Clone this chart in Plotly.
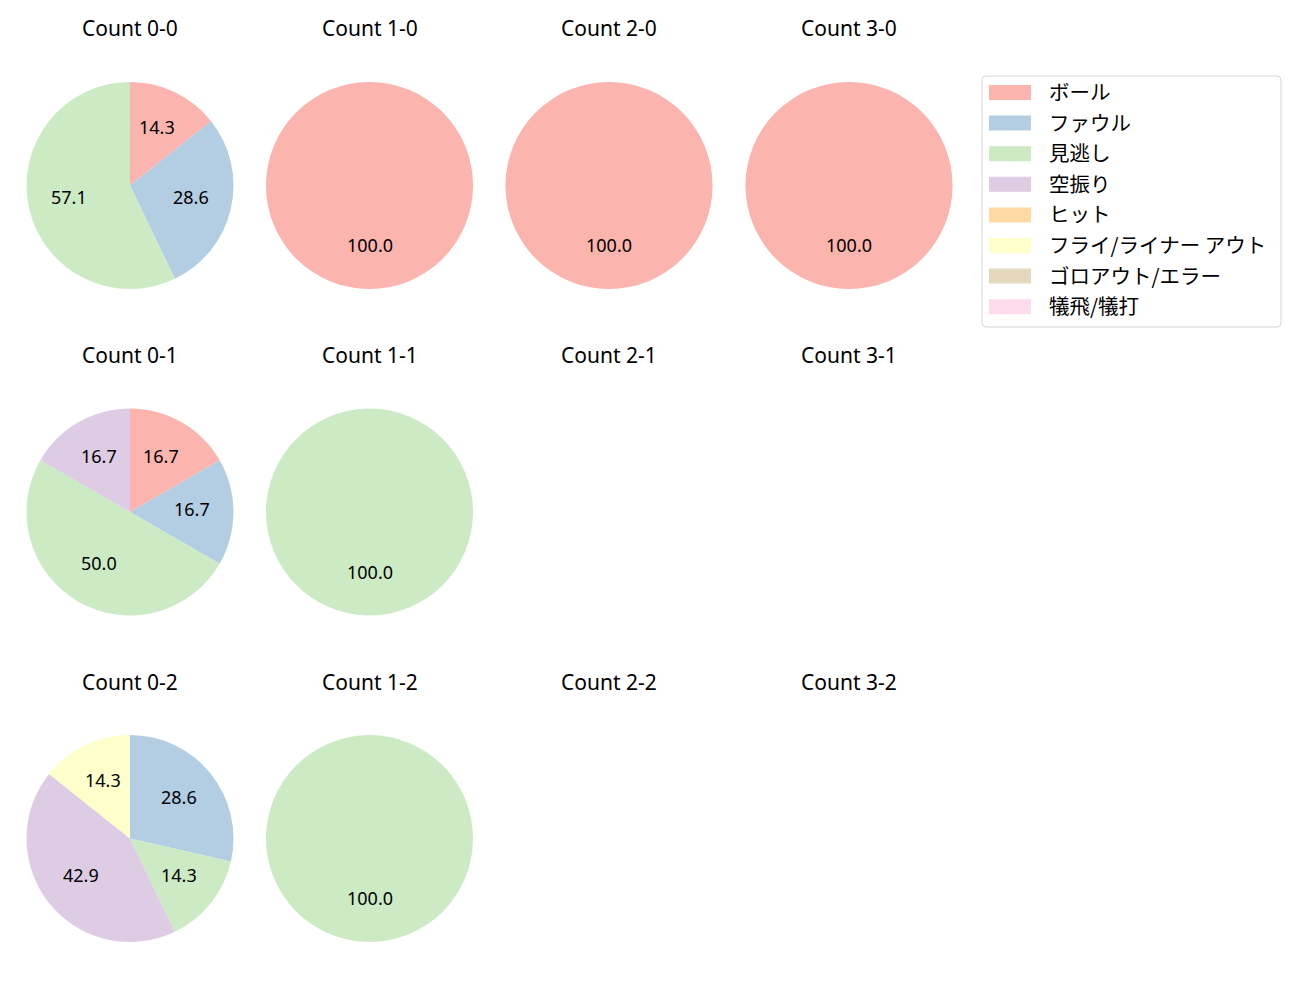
import math
import plotly.graph_objects as go

FONT_JP = "Noto Sans CJK JP"
FONT_LAT = "Noto Sans, Noto Sans CJK JP"
W, H = 1300, 1000

categories = ["ボール", "ファウル", "見逃し", "空振り", "ヒット",
              "フライ/ライナー アウト", "ゴロアウト/エラー", "犠飛/犠打"]
colors = ["#fbb4ae", "#b3cde3", "#ccebc5", "#decbe4", "#fed9a6",
          "#ffffcc", "#e5d8bd", "#fddaec"]

count_labels = ["0-0", "1-0", "2-0", "3-0",
                "0-1", "1-1", "2-1", "3-1",
                "0-2", "1-2", "2-2", "3-2"]

count_0_0 = [1, 2, 4, 0, 0, 0, 0, 0]
count_1_0 = [1, 0, 0, 0, 0, 0, 0, 0]
count_2_0 = [1, 0, 0, 0, 0, 0, 0, 0]
count_3_0 = [1, 0, 0, 0, 0, 0, 0, 0]
count_0_1 = [1, 1, 3, 1, 0, 0, 0, 0]
count_1_1 = [0, 0, 1, 0, 0, 0, 0, 0]
count_2_1 = [0, 0, 0, 0, 0, 0, 0, 0]
count_3_1 = [0, 0, 0, 0, 0, 0, 0, 0]
count_0_2 = [0, 2, 1, 3, 0, 1, 0, 0]
count_1_2 = [0, 0, 1, 0, 0, 0, 0, 0]
count_2_2 = [0, 0, 0, 0, 0, 0, 0, 0]
count_3_2 = [0, 0, 0, 0, 0, 0, 0, 0]

all_counts = [count_0_0, count_1_0, count_2_0, count_3_0,
              count_0_1, count_1_1, count_2_1, count_3_1,
              count_0_2, count_1_2, count_2_2, count_3_2]

# layout (pixels)
col_cx = [130, 369.5, 609, 849]
row_cy = [185.5, 512, 838.5]
R = 103.5
title_y = [28.5, 355, 681.5]
TEXT_SHIFT = -2.5

fig = go.Figure()
annotations = []
shapes = []

for idx, (lab, vals) in enumerate(zip(count_labels, all_counts)):
    r_i, c_i = divmod(idx, 4)
    cx, cy = col_cx[c_i], row_cy[r_i]
    annotations.append(dict(
        x=cx / W, y=1 - title_y[r_i] / H, xref="paper", yref="paper",
        text=f"Count {lab}", showarrow=False, xanchor="center", yanchor="middle",
        font=dict(family=FONT_LAT, size=21, color="#000000")))
    total = sum(vals)
    if total == 0:
        continue
    lbls = [c for c, v in zip(categories, vals) if v > 0]
    vv = [v for v in vals if v > 0]
    cc = [col for col, v in zip(colors, vals) if v > 0]
    fig.add_trace(go.Pie(
        labels=lbls, values=vv, sort=False, direction="clockwise", rotation=0,
        marker=dict(colors=cc, line=dict(width=0)),
        textinfo="none", hoverinfo="label+percent", showlegend=False,
        domain=dict(x=[(cx - R) / W, (cx + R) / W],
                    y=[1 - (cy + R) / H, 1 - (cy - R) / H])))
    cum = 0
    for v in vv:
        frac = v / total
        mid = 90 - 360 * (cum + frac / 2)
        cum += frac
        tx = cx + 0.6 * R * math.cos(math.radians(mid))
        ty = cy - 0.6 * R * math.sin(math.radians(mid)) + TEXT_SHIFT
        annotations.append(dict(
            x=tx / W, y=1 - ty / H, xref="paper", yref="paper",
            text=f"{frac * 100:.1f}", showarrow=False,
            xanchor="center", yanchor="middle",
            font=dict(family=FONT_LAT, size=18, color="#000000")))

# legend box
lx0, ly0, lx1, ly1 = 982, 76, 1281, 327
rr = 4
path = (f"M{lx0 + rr},{ly0} L{lx1 - rr},{ly0} Q{lx1},{ly0} {lx1},{ly0 + rr} "
        f"L{lx1},{ly1 - rr} Q{lx1},{ly1} {lx1 - rr},{ly1} L{lx0 + rr},{ly1} "
        f"Q{lx0},{ly1} {lx0},{ly1 - rr} L{lx0},{ly0 + rr} Q{lx0},{ly0} {lx0 + rr},{ly0} Z")
shapes.append(dict(type="path", path=path, xref="x", yref="y",
                   line=dict(color="#d6d6d6", width=1), fillcolor="rgba(255,255,255,0.8)"))
for i, (cat, col) in enumerate(zip(categories, colors)):
    yc = 92.5 + 30.6 * i
    shapes.append(dict(type="rect", xref="x", yref="y",
                       x0=989, x1=1031, y0=yc - 7.5, y1=yc + 7.5,
                       line=dict(width=0), fillcolor=col))
    annotations.append(dict(
        x=1047, y=yc - 1.5, xref="x", yref="y", text=cat, showarrow=False,
        xanchor="left", yanchor="middle",
        font=dict(family=FONT_JP, size=20.5, color="#000000")))

fig.update_layout(
    width=W, height=H, margin=dict(l=0, r=0, t=0, b=0),
    paper_bgcolor="white", plot_bgcolor="white",
    xaxis=dict(range=[0, W], visible=False, fixedrange=True, domain=[0, 1]),
    yaxis=dict(range=[H, 0], visible=False, fixedrange=True, domain=[0, 1]),
    annotations=annotations, shapes=shapes, showlegend=False,
)

fig.write_html("out.html")
